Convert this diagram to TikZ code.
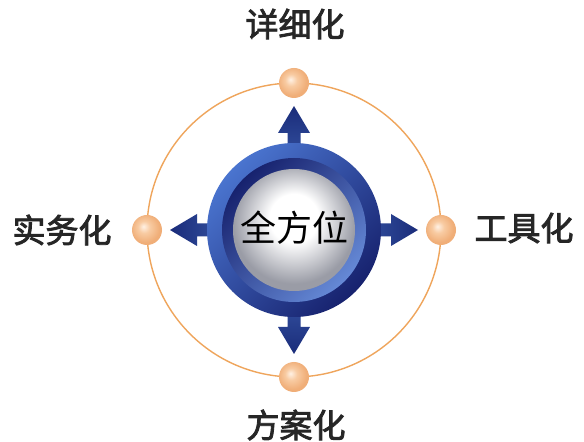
\documentclass[tikz,border=0pt]{standalone}
\usepackage{fontspec}
\newfontfamily\cjk{Noto Sans CJK SC}
\newfontfamily\cjkmed[FakeBold=2.5]{Noto Sans CJK SC}
\usetikzlibrary{calc}
\definecolor{ringlight}{HTML}{4A74CF}
\definecolor{ringdark}{HTML}{17226E}
\definecolor{arrowlight}{HTML}{5580D0}
\definecolor{arrowdark}{HTML}{1A2C7A}
\definecolor{orbit}{HTML}{EFA55C}
\definecolor{ballc}{HTML}{F8CBA2}
\definecolor{balledge}{HTML}{F0AE78}
\definecolor{ballhi}{HTML}{FFF1E4}
\definecolor{hubgray}{HTML}{9A9CA6}
\pgfdeclareradialshading{peachball}{\pgfpoint{-6bp}{6bp}}{color(0bp)=(ballhi); color(10bp)=(ballc); color(24bp)=(balledge); color(50bp)=(balledge)}
\pgfdeclareradialshading{hubshade}{\pgfpoint{0bp}{6bp}}{color(0bp)=(white); color(10bp)=(white); color(25bp)=(hubgray); color(50bp)=(hubgray)}
\tikzset{
  labeltext/.style={font=\cjkmed\fontsize{33}{33}\selectfont, text=black!85, inner sep=0pt},
  hubtext/.style={font=\cjk\fontsize{36}{36}\selectfont, text=black, inner sep=0pt},
  ballnode/.style={circle, minimum size=30pt, inner sep=0pt, shading=peachball},
  orbitline/.style={draw=orbit, line width=1.4pt},
}
\begin{document}
\begin{tikzpicture}[x=1pt,y=1pt]
\useasboundingbox (0,0) rectangle (584,442);
\fill[white] (0,0) rectangle (584,442);
\coordinate (c) at (294,212);
% orbit
\draw[orbitline] (c) circle (147);
% arrows
\shade[left color=arrowlight, right color=arrowdark] (c) +(70,-6.5) -- +(97,-6.5) -- +(97,-16) -- +(124,0) -- +(97,16) -- +(97,6.5) -- +(70,6.5) -- cycle;
\shade[right color=arrowlight, left color=arrowdark] (c) +(-70,-6.5) -- +(-97,-6.5) -- +(-97,-16) -- +(-124,0) -- +(-97,16) -- +(-97,6.5) -- +(-70,6.5) -- cycle;
\shade[bottom color=arrowlight, top color=arrowdark] (c) +(-6.5,70) -- +(-6.5,97) -- +(-16,97) -- +(0,124) -- +(16,97) -- +(6.5,97) -- +(6.5,70) -- cycle;
\shade[top color=arrowlight, bottom color=arrowdark] (c) +(-6.5,-70) -- +(-6.5,-97) -- +(-16,-97) -- +(0,-124) -- +(16,-97) -- +(6.5,-97) -- +(6.5,-70) -- cycle;
% ring
\shade[top color=ringlight, bottom color=ringdark, shading angle=45] (c) circle (87);
\shade[top color=ringdark, bottom color=ringlight!85!white, shading angle=45] (c) circle (72);
\shade[shading=hubshade] (c) circle (61);
\node[hubtext] (hub) at ($(c)+(0,2)$) {全方位};
% balls
\node[ballnode] (btop) at ($(c)+(0,147)$) {};
\node[ballnode] (bbot) at ($(c)+(0,-147)$) {};
\node[ballnode] (bleft) at ($(c)+(-147,0)$) {};
\node[ballnode] (bright) at ($(c)+(147,0)$) {};
% labels
\node[labeltext] (ltop) at (295,418) {详细化};
\node[labeltext] (lleft) at (62,212) {实务化};
\node[labeltext] (lright) at (524,214) {工具化};
\node[labeltext] (lbot) at (296,17) {方案化};
\end{tikzpicture}
\end{document}
